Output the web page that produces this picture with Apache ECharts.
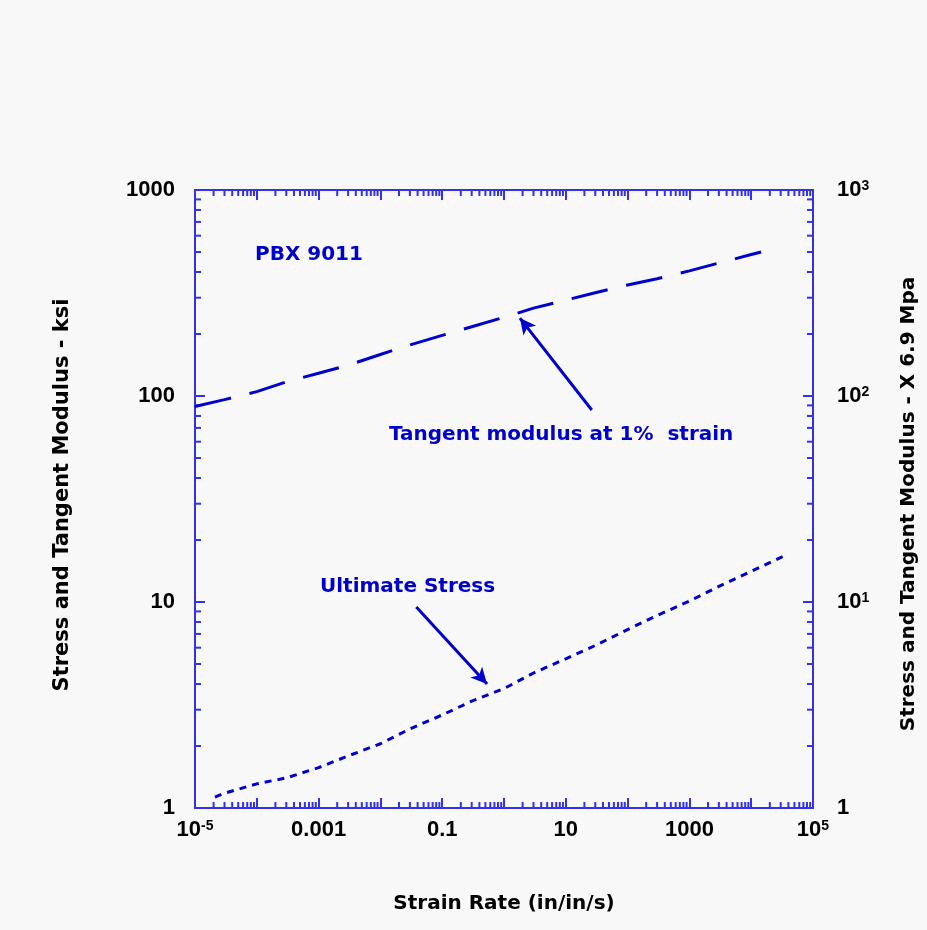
<!DOCTYPE html>
<html>
<head>
<meta charset="utf-8">
<script src="https://cdn.jsdelivr.net/npm/echarts@6/dist/echarts.min.js"></script>
<style>
html,body{margin:0;padding:0;background:#f8f8f8;}
#chart{width:927px;height:930px;}
</style>
</head>
<body>
<div id="chart"></div>
<script>
// ---- data ----
const tangentX = [1e-5, 3e-5, 1e-4, 3e-4, 1e-3, 3e-3, 1e-2, 3e-2, 0.1, 0.3, 1, 3, 10, 30, 100, 300, 1000, 3000, 1e4, 1.45e4];
const tangentY = [89, 96, 105, 117, 129, 141, 159, 177, 197, 217, 241, 267, 292, 317, 346, 371, 405, 442, 486, 500];
const stressX = [2.1e-5, 3e-5, 1e-4, 3e-4, 1e-3, 3e-3, 0.01, 0.03, 0.1, 0.3, 1, 3, 10, 30, 100, 300, 1000, 3000, 1e4, 3.5e4];
const stressY = [1.13, 1.18, 1.31, 1.40, 1.57, 1.79, 2.05, 2.42, 2.83, 3.30, 3.80, 4.52, 5.3, 6.15, 7.35, 8.6, 10.1, 11.9, 14.1, 16.8];

// annotation arrows: [tail, tip] in data coordinates
const tangentArrow = [[26.3, 85.5], [1.81, 239]];
const stressArrow = [[0.0381, 9.46], [0.532, 4.0]];

// tick labels
const xLabelExps = [-5, -3, -1, 1, 3, 5];
const xLabelTexts = ['10{sup|-5}', '0.001', '0.1', '10', '1000', '10{sup|5}'];
const yLabelExps = [0, 1, 2, 3];
const yLeftLabels = ['1', '10', '100', '1000'];
const yRightLabels = ['1', '10{sup|1}', '10{sup|2}', '10{sup|3}'];
const minorMultipliers = [2, 3, 4, 5, 6, 7, 8, 9];

const AXIS = '#3232ee';
const LINE = '#0000cc';
const FONT = '"DejaVu Sans", sans-serif';
const NUMFONT = '"Liberation Sans", Arial, sans-serif';

// minor tick positions (axis decoration)
const minorTicks = [];
for (let e = -5; e < 5; e++) minorMultipliers.forEach(m => minorTicks.push([m * Math.pow(10, e), 1, 0]));
for (let e = 0; e < 3; e++) minorMultipliers.forEach(m => minorTicks.push([1e-5, m * Math.pow(10, e), 1]));

function expOf(v) { return Math.round(Math.log10(v)); }
const richNum = {
  sup: { fontSize: 14, fontWeight: 'bold', fontFamily: NUMFONT, color: '#000', verticalAlign: 'top', lineHeight: 14 }
};

const chart = echarts.init(document.getElementById('chart'), null, { renderer: 'canvas' });
const option = {
  animation: false,
  backgroundColor: '#f8f8f8',
  grid: { left: 195, top: 190, right: 111, bottom: 122, containLabel: false },
  xAxis: [
    {
      type: 'log', logBase: 10, min: 1e-5, max: 1e5, interval: 1, position: 'bottom',
      name: 'Strain Rate (in/in/s)', nameLocation: 'middle', nameGap: 86,
      nameTextStyle: { fontFamily: FONT, fontWeight: 'bold', fontSize: 20, color: '#000' },
      axisLine: { show: true, lineStyle: { color: AXIS, width: 2 } },
      axisTick: { show: true, inside: true, length: 10, lineStyle: { color: AXIS, width: 2 } },
      splitLine: { show: false },
      axisLabel: {
        margin: 11, fontFamily: NUMFONT, fontWeight: 'bold', fontSize: 22, color: '#000',
        formatter: v => { const i = xLabelExps.indexOf(expOf(v)); return i >= 0 ? xLabelTexts[i] : ''; },
        rich: richNum
      }
    },
    {
      type: 'log', logBase: 10, min: 1e-5, max: 1e5, interval: 1, position: 'top',
      axisLine: { show: true, lineStyle: { color: AXIS, width: 2 } },
      axisTick: { show: true, inside: true, length: 10, lineStyle: { color: AXIS, width: 2 } },
      splitLine: { show: false },
      axisLabel: { show: false }
    }
  ],
  yAxis: [
    {
      type: 'log', logBase: 10, min: 1, max: 1000, interval: 1, position: 'left',
      name: 'Stress and Tangent Modulus - ksi', nameLocation: 'middle', nameGap: 122,
      nameTextStyle: { fontFamily: FONT, fontWeight: 'bold', fontSize: 21, color: '#000', padding: [0, 0, 0, 8] },
      axisLine: { show: true, lineStyle: { color: AXIS, width: 2 } },
      axisTick: { show: true, inside: true, length: 10, lineStyle: { color: AXIS, width: 2 } },
      splitLine: { show: false },
      axisLabel: {
        margin: 20, fontFamily: NUMFONT, fontWeight: 'bold', fontSize: 22, color: '#000',
        formatter: v => { const i = yLabelExps.indexOf(expOf(v)); return i >= 0 ? yLeftLabels[i] : ''; }
      }
    },
    {
      type: 'log', logBase: 10, min: 1, max: 1000, interval: 1, position: 'right',
      name: 'Stress and Tangent Modulus - X 6.9 Mpa', nameLocation: 'middle', nameGap: 86,
      nameTextStyle: { fontFamily: FONT, fontWeight: 'bold', fontSize: 20, color: '#000', padding: [0, 10, 0, 0] },
      axisLine: { show: true, lineStyle: { color: AXIS, width: 2 } },
      axisTick: { show: true, inside: true, length: 10, lineStyle: { color: AXIS, width: 2 } },
      splitLine: { show: false },
      axisLabel: {
        margin: 24, fontFamily: NUMFONT, fontWeight: 'bold', fontSize: 22, color: '#000',
        formatter: v => { const i = yLabelExps.indexOf(expOf(v)); return i >= 0 ? yRightLabels[i] : ''; },
        rich: richNum
      }
    }
  ],
  graphic: [
    { type: 'text', left: 255, top: 245, silent: true,
      style: { text: 'PBX 9011', font: 'bold 20px ' + FONT, fill: LINE } },
    { type: 'text', left: 389, top: 425, silent: true,
      style: { text: 'Tangent modulus at 1%  strain', font: 'bold 20px ' + FONT, fill: LINE } },
    { type: 'text', left: 320, top: 577, silent: true,
      style: { text: 'Ultimate Stress', font: 'bold 20px ' + FONT, fill: LINE } }
  ],
  series: [
    {
      name: 'Tangent modulus at 1% strain', type: 'line', xAxisIndex: 0, yAxisIndex: 0,
      data: tangentX.map((x, i) => [x, tangentY[i]]),
      showSymbol: false, symbol: 'none', smooth: false, silent: true,
      lineStyle: { color: LINE, width: 3, type: [37, 19] },
      markLine: {
        silent: true, symbol: ['none', 'arrow'], symbolSize: [12, 16],
        label: { show: false },
        lineStyle: { color: LINE, width: 3, type: 'solid' },
        data: [[{ coord: tangentArrow[0] }, { coord: tangentArrow[1] }]]
      }
    },
    {
      name: 'Ultimate Stress', type: 'line', xAxisIndex: 0, yAxisIndex: 0,
      data: stressX.map((x, i) => [x, stressY[i]]),
      showSymbol: false, symbol: 'none', smooth: false, silent: true,
      lineStyle: { color: LINE, width: 3, type: [7, 6] },
      markLine: {
        silent: true, symbol: ['none', 'arrow'], symbolSize: [12, 16],
        label: { show: false },
        lineStyle: { color: LINE, width: 3, type: 'solid' },
        data: [[{ coord: stressArrow[0] }, { coord: stressArrow[1] }]]
      }
    },
    {
      name: 'minorTicks', type: 'custom', xAxisIndex: 0, yAxisIndex: 0, silent: true, clip: false,
      encode: { x: 0, y: 1 },
      data: minorTicks,
      renderItem: function (params, api) {
        const cs = params.coordSys;
        const st = { stroke: AXIS, lineWidth: 2 };
        const len = 6;
        if (api.value(2) === 0) {
          const x = api.coord([api.value(0), 1])[0];
          const yb = cs.y + cs.height, yt = cs.y;
          return { type: 'group', children: [
            { type: 'line', shape: { x1: x, y1: yb, x2: x, y2: yb - len }, style: st },
            { type: 'line', shape: { x1: x, y1: yt, x2: x, y2: yt + len }, style: st }
          ] };
        } else {
          const y = api.coord([1e-5, api.value(1)])[1];
          const xl = cs.x, xr = cs.x + cs.width;
          return { type: 'group', children: [
            { type: 'line', shape: { x1: xl, y1: y, x2: xl + len, y2: y }, style: st },
            { type: 'line', shape: { x1: xr, y1: y, x2: xr - len, y2: y }, style: st }
          ] };
        }
      }
    }
  ]
};
chart.setOption(option);
</script>
</body>
</html>
